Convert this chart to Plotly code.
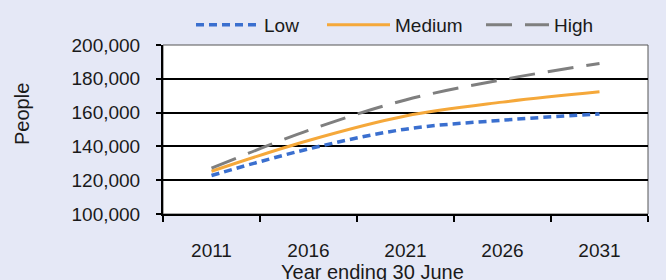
import plotly.graph_objects as go

years = [2011, 2016, 2021, 2026, 2031]
low = [122800, 138500, 150200, 155500, 159200]
medium = [125300, 143500, 158000, 166200, 172300]
high = [127100, 149500, 167500, 179500, 189100]
y_ticks = [100000, 120000, 140000, 160000, 180000, 200000]
x_ticks = [2011, 2016, 2021, 2026, 2031]
x_bounds = [2008.5, 2013.5, 2018.5, 2023.5, 2028.5, 2033.5]

FONT = "Liberation Sans, Arial, sans-serif"
BG = "#e5e8f6"

L, R, T, B = 163, 18, 45, 66
W, H = 666, 280
pw = W - L - R
ph = H - T - B


def px_x(p):
    return (p - L) / pw


def px_y(p):
    return (H - B - p) / ph


fig = go.Figure()
fig.add_trace(go.Scatter(x=years, y=low, name="Low", mode="lines", legend="legend",
                         line=dict(color="#3a6fcf", width=3.5, dash="8px,5px", shape="spline")))
fig.add_trace(go.Scatter(x=years, y=medium, name="Medium", mode="lines", legend="legend2",
                         line=dict(color="#f5a83a", width=3, shape="spline")))
fig.add_trace(go.Scatter(x=years, y=high, name="High", mode="lines", legend="legend3",
                         line=dict(color="#7f7f7f", width=3, dash="26px,13px", shape="spline")))

leg_common = dict(orientation="h", xanchor="left", y=px_y(25), yref="paper",
                  yanchor="middle", font=dict(size=19), bgcolor="rgba(0,0,0,0)",
                  itemwidth=63)

fig.update_layout(
    width=W, height=H,
    margin=dict(l=L, r=R, t=T, b=B, autoexpand=False),
    paper_bgcolor=BG, plot_bgcolor="white",
    font=dict(family=FONT, size=19, color="#1a1a1a"),
    showlegend=True,
    legend=dict(x=px_x(191), **leg_common),
    legend2=dict(x=px_x(322), **leg_common),
    legend3=dict(x=px_x(481), **leg_common),
    xaxis=dict(range=[2008.5, 2033.5], tickvals=x_ticks, ticks="", showgrid=False,
               zeroline=False, showline=True, linecolor="black", linewidth=2,
               ticklabelstandoff=18, tickfont=dict(size=19),
               minor=dict(tickvals=x_bounds, ticks="outside", ticklen=6,
                          tickcolor="black", tickwidth=2, showgrid=False)),
    yaxis=dict(range=[100000, 200000], tickvals=y_ticks, tickformat=",",
               ticks="outside", ticklen=5, tickcolor="black", tickwidth=2,
               showgrid=True, gridcolor="black", gridwidth=1.6,
               zeroline=False, showline=True, linecolor="black", linewidth=2,
               ticklabelstandoff=12, tickfont=dict(size=19)),
    annotations=[
        dict(text="People", x=px_x(22), y=px_y(114), xref="paper", yref="paper",
             showarrow=False, textangle=-90, font=dict(size=20),
             xanchor="center", yanchor="middle"),
        dict(text="Year ending 30 June", x=px_x(372), y=px_y(272),
             xref="paper", yref="paper", showarrow=False,
             font=dict(size=20), xanchor="center", yanchor="middle"),
    ],
)

# thin grey frame on top and right of the plot area
fig.add_shape(type="rect", xref="paper", yref="paper", x0=0, x1=1, y0=0, y1=1,
              line=dict(color="#555555", width=1), layer="below")

fig.write_html("out.html", config={"displayModeBar": False},
               post_script="document.body.style.margin='0';document.body.style.background='%s';" % BG)
